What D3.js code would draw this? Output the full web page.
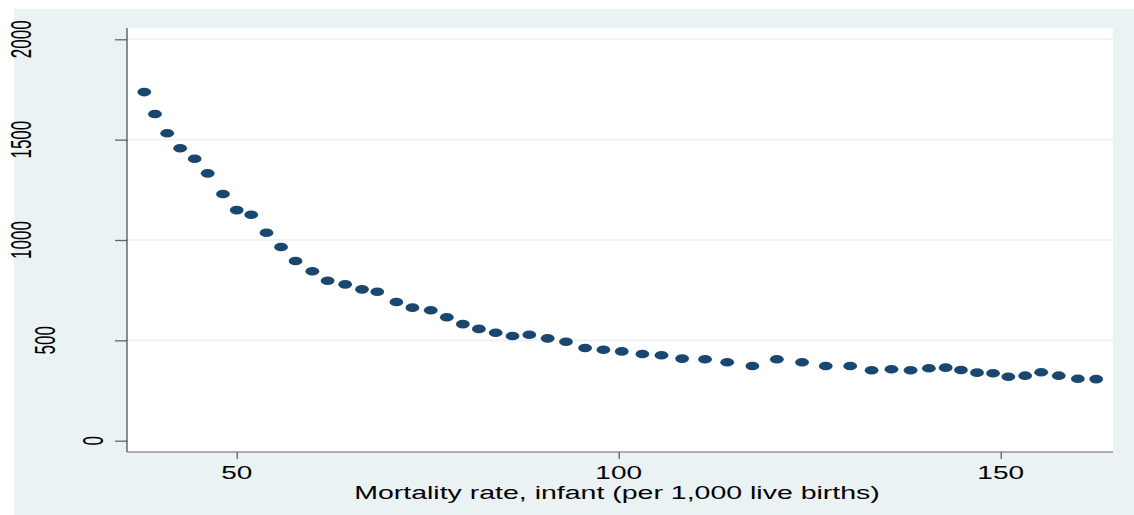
<!DOCTYPE html>
<html>
<head>
<meta charset="utf-8">
<script src="https://cdn.jsdelivr.net/npm/d3@7"></script>
<style>
  html, body { margin: 0; padding: 0; background: #ffffff; }
  svg { display: block; }
  text { font-family: "Liberation Sans", Arial, Helvetica, sans-serif; fill: #000; }
</style>
</head>
<body>
<svg id="chart" width="1134" height="515"></svg>
<script>
// ---------------- data ----------------
const infantMortality = [
  37.9, 39.3, 40.9, 42.6, 44.5, 46.2, 48.2, 50.0, 51.9, 53.9,
  55.8, 57.7, 59.9, 61.9, 64.2, 66.4, 68.4, 70.9, 73.0, 75.4,
  77.5, 79.6, 81.7, 83.9, 86.1, 88.3, 90.7, 93.1, 95.6, 98.0,
  100.4, 103.1, 105.6, 108.3, 111.3, 114.2, 117.5, 120.7, 124.0, 127.1,
  130.3, 133.1, 135.7, 138.2, 140.6, 142.8, 144.8, 146.9, 149.0, 151.0,
  153.2, 155.3, 157.6, 160.1, 162.5
];
const yValues = [
  1737, 1628, 1532, 1457, 1405, 1332, 1229, 1149, 1126, 1036,
  965, 895, 844, 797, 779, 754, 742, 691, 663, 650,
  615, 581, 557, 538, 522, 528, 510, 493, 462, 453,
  445, 432, 426, 409, 406, 391, 372, 406, 391, 372,
  372, 351, 356, 351, 361, 364, 352, 339, 336, 319,
  324, 341, 324, 309, 307
];
const xTicks = [50, 100, 150];
const yTicks = [0, 500, 1000, 1500, 2000];
const xTitle = "Mortality rate, infant (per 1,000 live births)";

// ---------------- layout ----------------
const svg = d3.select("#chart");
const bg = { x: 14, y: 9, w: 1120, h: 506 };
const plot = { left: 127, top: 28, right: 1113, bottom: 452 };

const x = d3.scaleLinear().domain([35.64, 164.7]).range([plot.left, plot.right]);
const y = d3.scaleLinear().domain([0, 2000]).range([440.7, 39.3]);

const BG = "#EAF2F3";
const NAVY = "#1A476F";

// outer background
svg.append("rect")
  .attr("x", bg.x).attr("y", bg.y).attr("width", bg.w).attr("height", bg.h)
  .attr("fill", BG);

// plot region
svg.append("rect")
  .attr("x", plot.left).attr("y", plot.top)
  .attr("width", plot.right - plot.left).attr("height", plot.bottom - plot.top)
  .attr("fill", "#ffffff");

// grid lines
svg.append("g").selectAll("line")
  .data(yTicks.filter(d => d !== 0))
  .join("line")
  .attr("x1", plot.left).attr("x2", plot.right)
  .attr("y1", d => y(d)).attr("y2", d => y(d))
  .attr("stroke", BG).attr("stroke-width", 1.6);

// y axis ticks (d3 axis)
const yAxisG = svg.append("g")
  .attr("transform", `translate(${plot.left},0)`)
  .call(d3.axisLeft(y).tickValues(yTicks).tickSize(12).tickSizeOuter(0).tickFormat(""));
yAxisG.select(".domain").remove();
yAxisG.selectAll(".tick line").attr("stroke", "#666").attr("stroke-width", 1.3);

// x axis ticks
const xAxisG = svg.append("g")
  .attr("transform", `translate(0,${plot.bottom})`)
  .call(d3.axisBottom(x).tickValues(xTicks).tickSize(7).tickSizeOuter(0).tickFormat(""));
xAxisG.select(".domain").remove();
xAxisG.selectAll(".tick line").attr("stroke", "#555").attr("stroke-width", 1.2);

// axis lines
svg.append("line")
  .attr("x1", plot.left).attr("x2", plot.left)
  .attr("y1", plot.top).attr("y2", plot.bottom)
  .attr("stroke", "#333").attr("stroke-width", 1.1);
svg.append("line")
  .attr("x1", plot.left).attr("x2", plot.right)
  .attr("y1", plot.bottom).attr("y2", plot.bottom)
  .attr("stroke", "#666").attr("stroke-width", 1.1);

// y tick labels (rotated, stretched; offset grows with label length as in reference)
svg.append("g").selectAll("text")
  .data(yTicks)
  .join("text")
  .attr("text-anchor", "middle")
  .attr("dy", "0.35em")
  .attr("font-size", 17)
  .attr("transform", d => {
    const n = String(d).length;
    return `translate(${117 - 24 * n},${y(d)}) scale(1.75,1) rotate(-90)`;
  })
  .text(d => d);

// x tick labels
svg.append("g").selectAll("text")
  .data(xTicks)
  .join("text")
  .attr("text-anchor", "middle")
  .attr("font-size", 17.5)
  .attr("transform", d => `translate(${x(d)},478.5) scale(1.6,1)`)
  .text(d => d);

// x axis title
const title = svg.append("text")
  .attr("text-anchor", "middle")
  .attr("font-size", 18.5)
  .text(xTitle);
const natural = title.node().getComputedTextLength();
title.attr("transform", `translate(${(plot.left + plot.right) / 2 - 3},499) scale(${526 / natural},1)`);

// markers (ellipses, as in the horizontally stretched reference)
svg.append("g").selectAll("ellipse")
  .data(infantMortality.map((v, i) => [v, yValues[i]]))
  .join("ellipse")
  .attr("cx", d => x(d[0]))
  .attr("cy", d => y(d[1]))
  .attr("rx", 6.9)
  .attr("ry", 4.3)
  .attr("fill", NAVY);
</script>
</body>
</html>
